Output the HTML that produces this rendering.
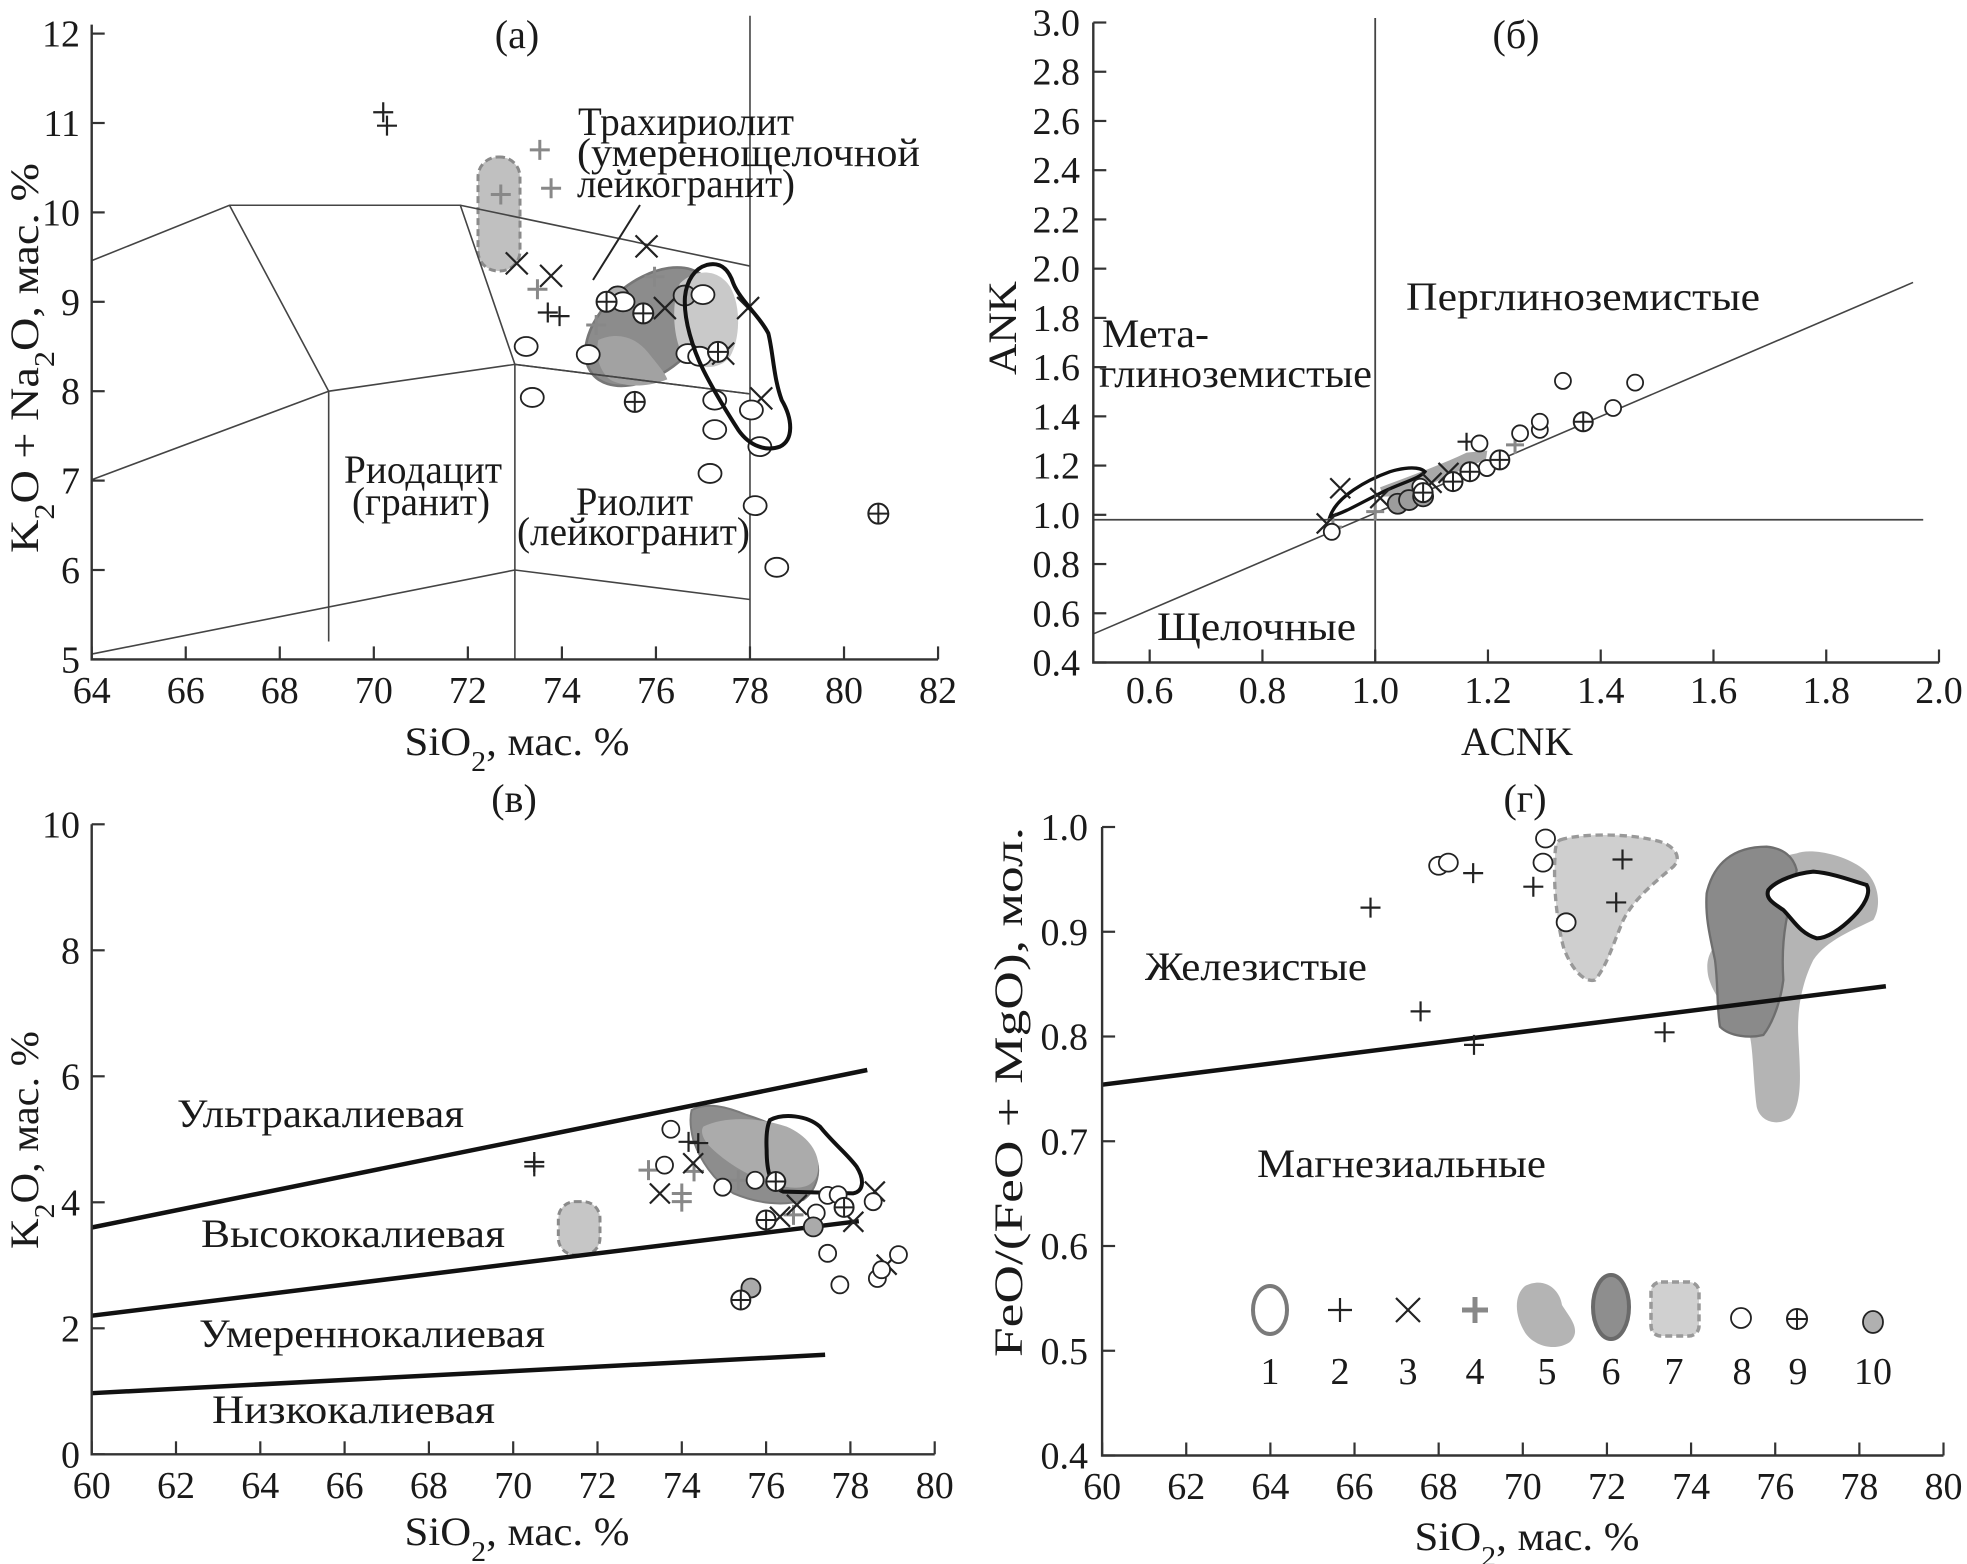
<!DOCTYPE html>
<html><head><meta charset="utf-8"><style>
html,body{margin:0;padding:0;background:#fff}
svg{display:block}
text{font-family:"Liberation Serif","DejaVu Serif",serif;fill:#1a1a1a}
</style></head><body>
<svg id="fig" width="1967" height="1564" viewBox="0 0 1967 1564" xmlns="http://www.w3.org/2000/svg">
<rect width="1967" height="1564" fill="#fff"/>

<!-- Panel a shapes (zoom-space group) -->
<g transform="translate(560,220) scale(0.3333)">
  <ellipse cx="268" cy="320" rx="222" ry="138" transform="rotate(-40 268 320)" fill="#8c8c8c" stroke="#777" stroke-width="8"/>
  <path d="M115,360 C170,335 225,350 262,395 C290,430 315,458 322,478 C270,500 200,505 152,480 C118,455 105,405 115,360Z" fill="#a2a2a2"/>
  <path d="M360,190 C400,150 470,140 510,200 C545,260 540,360 510,410 C480,450 420,450 380,420 C340,380 330,250 360,190Z" fill="#c9c9c9"/>
</g>
<rect x="478" y="157" width="42" height="114" rx="20" fill="#c0c0c0" stroke="#8a8a8a" stroke-width="3" stroke-dasharray="7,4"/>

<g id="pa"></g>

<g transform="translate(560,220) scale(0.3333)">
  <path d="M440,135 C480,125 505,145 520,190 C540,240 600,290 625,340 C640,400 640,470 665,540 C700,600 700,660 660,680 C620,695 570,680 535,630 C490,560 460,510 430,450 C400,390 370,300 375,230 C380,180 405,145 440,135Z" fill="none" stroke="#111" stroke-width="12"/>
</g>

<!-- Panel b shapes -->
<g transform="translate(1280,400) scale(0.3333)">
  <path d="M300,262 C380,232 470,200 560,158 L622,152 L618,178 C540,212 450,252 380,288 L310,290Z" fill="#a8a8a8"/>
  <path d="M150,350 C170,290 260,240 330,215 C380,200 420,200 435,215 C420,235 360,250 300,280 C240,310 190,340 150,350Z" fill="none" stroke="#111" stroke-width="10"/>
</g>
<g id="pb"></g>

<!-- Panel v shapes -->
<g transform="translate(540,1020) scale(0.3333)">
  <rect x="55" y="545" width="125" height="160" rx="50" fill="#c6c6c6" stroke="#8a8a8a" stroke-width="9" stroke-dasharray="20,12"/>
  <path d="M455,270 C500,245 560,260 620,285 C700,310 780,350 820,400 C850,450 830,510 790,540 C730,560 650,550 580,520 C520,480 480,420 460,360 C450,320 450,290 455,270Z" fill="#8d8d8d" stroke="#7a7a7a" stroke-width="6"/>
  <path d="M490,320 C550,290 650,290 740,320 C810,350 850,410 830,470 C810,510 760,510 700,490 C620,470 550,420 510,380 C490,360 480,335 490,320Z" fill="#ababab"/>
  <path d="M690,300 C730,280 800,285 840,320 C880,370 920,400 950,440 C975,480 970,515 940,520 L730,515 C690,500 680,450 680,390 C678,350 680,320 690,300Z" fill="none" stroke="#111" stroke-width="12"/>
</g>
<g id="pv"></g>

<!-- Panel g shapes -->
<g transform="translate(1420,820) scale(0.3333)">
  <path d="M420,60 C480,40 620,40 700,60 C760,70 790,110 760,140 C700,190 640,240 610,300 C580,370 560,440 525,480 C490,490 450,440 430,380 C410,300 400,200 405,110 C405,80 410,65 420,60Z" fill="#cfcfcf" stroke="#999" stroke-width="10" stroke-dasharray="22,14"/>
</g>
<g transform="translate(1700,820) scale(0.3333)">
  <path d="M290,100 C330,85 420,100 480,140 C540,180 545,260 520,300 C460,330 380,360 340,420 C310,480 290,560 295,650 C300,750 310,850 270,895 C230,920 180,905 170,860 C160,780 160,700 150,650 C100,600 40,530 25,470 C15,420 30,390 60,360 L100,200 C150,150 230,110 290,100Z" fill="#b4b4b4"/>
  <path d="M20,220 C40,130 100,80 200,80 C250,85 280,110 290,150 L270,250 C250,330 245,400 250,480 C240,560 210,620 190,645 C150,655 90,650 60,620 C50,560 55,500 45,420 C30,350 15,290 20,220Z" fill="#8a8a8a" stroke="#6e6e6e" stroke-width="7"/>
  <path d="M205,210 C230,180 290,160 340,155 C400,160 450,180 500,195 C515,220 490,260 460,290 C420,330 380,355 350,355 C300,340 280,300 250,270 C220,250 195,235 205,210Z" fill="#fff" stroke="#111" stroke-width="12"/>
</g>
<g id="pg"></g>

<!-- Legend -->
<g>
  <ellipse cx="1270" cy="1310" rx="17" ry="24" fill="none" stroke="#7a7a7a" stroke-width="4"/>
  <path d="M1525,1286 C1545,1276 1560,1290 1562,1305 C1570,1318 1582,1330 1570,1342 C1555,1352 1535,1346 1526,1334 C1515,1318 1513,1296 1525,1286Z" fill="#b4b4b4"/>
  <ellipse cx="1611" cy="1307" rx="18" ry="32" fill="#8e8e8e" stroke="#6a6a6a" stroke-width="4"/>
  <rect x="1651" y="1282" width="48" height="54" rx="10" fill="#d0d0d0" stroke="#999" stroke-width="3.5" stroke-dasharray="7,4"/>
</g>
<g id="lg"></g>
</svg>
<script>
const NS='http://www.w3.org/2000/svg';
function el(parent,tag,attrs){const e=document.createElementNS(NS,tag);for(const k in attrs)e.setAttribute(k,attrs[k]);parent.appendChild(e);return e;}
function txt(parent,x,y,s,size,anchor){const t=el(parent,'text',{x:x,y:y,'font-size':size,'text-anchor':anchor||'middle'});t.textContent=s;return t;}

// ---------- Panel A data: TAS ----------
const aXTicks=[64,66,68,70,72,74,76,78,80,82];
const aYTicks=[5,6,7,8,9,10,11,12];
const aBoundX=[[64,66.93,71.84,73,78],[71.84,78],[66.93,69.04,73],[64,69.04],[73,78],[64,73,78],[69.04,69.04],[73,73],[78,78]];
const aBoundY=[[9.46,10.08,10.08,8.3,7.97],[10.08,9.4],[10.08,8.0,8.3],[7.01,8.0],[8.3,7.97],[5.06,6.0,5.67],[8.0,5.2],[8.3,5],[12.2,5]];
const aPlusX=[70.2,70.28,73.7,73.95];
const aPlusY=[11.12,10.97,8.88,8.84];
const aGPlusX=[73.53,73.77,72.7,73.48,75.97,74.73];
const aGPlusY=[10.7,10.27,10.2,9.14,9.28,8.74];
const aCrossX=[73.04,73.77,75.8,76.19,77.96,77.43,78.24];
const aCrossY=[9.43,9.29,9.62,8.93,8.93,8.42,7.92];
const aCircX=[73.24,73.37,74.56,75.3,77.0,76.68,76.93,77.25,78.03,77.25,77.15,78.21,78.11,78.57];
const aCircY=[8.5,7.93,8.41,9.0,9.08,8.42,8.39,7.9,7.79,7.57,7.08,7.38,6.72,6.03];
const aOplusX=[74.95,75.73,77.32,75.55,80.73];
const aOplusY=[9.0,8.87,8.44,7.88,6.63];
const aGCircX=[75.19,76.61];
const aGCircY=[9.06,9.07];
const xa=v=>91.7+(v-64)*47.02, ya=v=>659.4-(v-5)*89.4;

// ---------- Panel B data: ACNK-ANK ----------
const bXTicks=[0.6,0.8,1.0,1.2,1.4,1.6,1.8,2.0];
const bYTicks=[0.4,0.6,0.8,1.0,1.2,1.4,1.6,1.8,2.0,2.2,2.4,2.6,2.8,3.0];
const bDiagX=[0.5,1.954];
const bDiagY=[0.516,1.944];
const bCrossX=[0.938,0.914,1.009,1.1,1.13];
const bCrossY=[1.108,0.965,1.068,1.13,1.17];
const bPlusX=[1.162];
const bPlusY=[1.297];
const bGPlusX=[0.925,1.0,1.248];
const bGPlusY=[0.95,1.013,1.284];
const bCircX=[0.923,1.08,1.198,1.185,1.257,1.292,1.292,1.422,1.333,1.461];
const bCircY=[0.931,1.114,1.19,1.29,1.331,1.345,1.378,1.434,1.544,1.537];
const bOplusX=[1.085,1.138,1.168,1.221,1.369];
const bOplusY=[1.09,1.135,1.175,1.223,1.378];
const bGCircX=[1.04,1.06,1.085];
const bGCircY=[1.045,1.06,1.075];
const xb=v=>1093.3+(v-0.5)*563.8, yb=v=>662.5-(v-0.4)*246.15;

// ---------- Panel V data: K2O-SiO2 ----------
const cXTicks=[60,62,64,66,68,70,72,74,76,78,80];
const cYTicks=[0,2,4,6,8,10];
const cLineX=[[60,78.4],[60,78.2],[60,77.4]];
const cLineY=[[3.6,6.1],[2.2,3.7],[0.97,1.58]];
const cPlusX=[70.5,70.5,74.16,74.39];
const cPlusY=[4.64,4.57,4.96,4.94];
const cCrossX=[74.27,73.48,76.73,76.33,78.07,78.58,78.86];
const cCrossY=[4.62,4.14,3.96,3.77,3.69,4.17,3.01];
const cGPlusX=[73.21,74.0,74.0,74.29,75.34,76.65];
const cGPlusY=[4.51,4.14,4.01,4.49,4.35,3.8];
const cCircX=[73.74,73.59,74.97,75.74,77.46,77.71,77.19,78.54,77.46,77.75,78.64,78.74,79.14];
const cCircY=[5.16,4.59,4.24,4.35,4.11,4.12,3.83,4.01,3.19,2.69,2.79,2.93,3.17];
const cOplusX=[76.23,77.85,76.0,75.4];
const cOplusY=[4.33,3.92,3.72,2.45];
const cGCircX=[77.12,75.64];
const cGCircY=[3.61,2.64];
const xc=v=>91.7+(v-60)*42.15, yc=v=>1454.3-v*63;

// ---------- Panel G data: FeO/(FeO+MgO) ----------
const dXTicks=[60,62,64,66,68,70,72,74,76,78,80];
const dYTicks=[0.4,0.5,0.6,0.7,0.8,0.9,1.0];
const dLineX=[60,78.63];
const dLineY=[0.754,0.848];
const dPlusX=[66.38,68.82,70.25,72.37,72.22,67.57,68.84,73.37];
const dPlusY=[0.923,0.956,0.943,0.969,0.928,0.824,0.792,0.804];
const dCircX=[68.0,68.23,70.54,70.48,71.03];
const dCircY=[0.963,0.966,0.989,0.966,0.909];
const xd=v=>1102.1+(v-60)*42.07, yd=v=>1455.5-(v-0.4)*1047.5;

// ---------- marker helpers ----------
function plus(g,x,y,s,col,w,name){const p=el(g,'path',{d:`M${x-s},${y}H${x+s}M${x},${y-s}V${y+s}`,stroke:col,'stroke-width':w,fill:'none'});

}
function cross(g,x,y,s,name){const p=el(g,'path',{d:`M${x-s},${y-s}L${x+s},${y+s}M${x-s},${y+s}L${x+s},${y-s}`,stroke:'#222','stroke-width':2.2,fill:'none'});

}
function circ(g,x,y,rx,ry,fill,name){const c=el(g,'ellipse',{cx:x,cy:y,rx:rx,ry:ry,fill:fill,stroke:'#222','stroke-width':1.8});

}
function oplus(g,x,y,r,name){const c=el(g,'g',{});


el(c,'circle',{cx:x,cy:y,r:r,fill:'#fff',stroke:'#222','stroke-width':2});
el(c,'path',{d:`M${x-r},${y}H${x+r}M${x},${y-r}V${y+r}`,stroke:'#222','stroke-width':2});}

function axes(g,x0,x1,y0,y1,xt,yt,fx,fy,fmtX,fmtY,xlabBase,ylabRight){
  const ax=el(g,'path',{d:`M${x0},${y1}V${y0}H${x1}`,stroke:'#333','stroke-width':2.4,fill:'none'});
  
  
  xt.forEach(v=>{const X=fx(v);el(g,'line',{x1:X,x2:X,y1:y0,y2:y0-13,stroke:'#333','stroke-width':2.2});
    const t=txt(g,X,xlabBase,fmtX(v),38);
    
    });
  yt.forEach(v=>{const Y=fy(v);el(g,'line',{x1:x0,x2:x0+13,y1:Y,y2:Y,stroke:'#333','stroke-width':2.2});
    const t=txt(g,ylabRight,Y+13,fmtY(v),38,'end');
    
    });
}
function rotLabel(g,x,y,parts,len,name){
  const t=el(g,'text',{x:x,y:y,'font-size':40,'text-anchor':'middle',transform:`rotate(-90 ${x} ${y})`,textLength:len,lengthAdjust:'spacingAndGlyphs'});
  
  
  parts.forEach(p=>{const s=el(t,'tspan',p[1]?{'baseline-shift':'sub','font-size':28}:{});s.textContent=p[0];});
}
function xLabel(g,x,y,len){
  const t=el(g,'text',{x:x,y:y,'font-size':40,'text-anchor':'middle',textLength:len,lengthAdjust:'spacingAndGlyphs'});
  
  
  [['SiO',0],['2',1],[', мас. %',0]].forEach(p=>{const s=el(t,'tspan',p[1]?{'baseline-shift':'sub','font-size':28}:{});s.textContent=p[0];});
}
function label(g,x,y,s,len,name,size){const t=el(g,'text',{x:x,y:y,'font-size':size||40,textLength:len,lengthAdjust:'spacingAndGlyphs'});t.textContent=s;

return t;}
const fInt=v=>String(v), f1=v=>v.toFixed(1);

// ---------- Panel A ----------
const pa=document.getElementById('pa');
aBoundX.forEach((xs,i)=>{const d=xs.map((v,j)=>(j?'L':'M')+xa(v)+','+ya(aBoundY[i][j])).join('');
  const p=el(pa,'path',{d:d,stroke:'#444','stroke-width':1.6,fill:'none'});
  
  });
el(pa,'line',{x1:640,y1:205,x2:593,y2:280,stroke:'#222','stroke-width':2});
axes(pa,91.7,xa(82),ya(5),ya(12.1),aXTicks,aYTicks,xa,ya,fInt,fInt,703,80);
aGPlusX.forEach((x,i)=>plus(pa,xa(x),ya(aGPlusY[i]),10,'#888',3,'gray-plus-a'));
aPlusX.forEach((x,i)=>plus(pa,xa(x),ya(aPlusY[i]),10,'#222',2.2,'plus-a'));
aCrossX.forEach((x,i)=>cross(pa,xa(x),ya(aCrossY[i]),11,'cross-a'));
aGCircX.forEach((x,i)=>circ(pa,xa(x),ya(aGCircY[i]),11,10,'#b0b0b0','gray-circle-a'));
aCircX.forEach((x,i)=>circ(pa,xa(x),ya(aCircY[i]),11.5,9.5,'#fff','circle-a'));
aOplusX.forEach((x,i)=>oplus(pa,xa(x),ya(aOplusY[i]),10,'oplus-a'));
txt(pa,517,48,'(а)',40);
rotLabel(pa,38,358,[['K',0],['2',1],['O + Na',0],['2',1],['O, мас. %',0]],390,'y-axis-title-a');
xLabel(pa,517,755,225);
label(pa,578,135,'Трахириолит',216,'label-trachyrhyolite',40);
label(pa,577,166,'(умеренощелочной',343,'label-trachyrhyolite-2',40);
label(pa,577,197,'лейкогранит)',218,'label-trachyrhyolite-3',40);
label(pa,344,483,'Риодацит',158,'label-rhyodacite',40);
label(pa,352,515,'(гранит)',138,'label-rhyodacite-2',40);
label(pa,576,515,'Риолит',117,'label-rhyolite',40);
label(pa,517,545,'(лейкогранит)',233,'label-rhyolite-2',40);

// ---------- Panel B ----------
const pb=document.getElementById('pb');
let l=el(pb,'line',{x1:xb(1.0),x2:xb(1.0),y1:18,y2:yb(0.4),stroke:'#444','stroke-width':1.8});


l=el(pb,'line',{x1:xb(0.5),x2:xb(1.972),y1:yb(0.98),y2:yb(0.98),stroke:'#444','stroke-width':1.8});


l=el(pb,'line',{x1:xb(bDiagX[0]),y1:yb(bDiagY[0]),x2:xb(bDiagX[1]),y2:yb(bDiagY[1]),stroke:'#444','stroke-width':1.6});


axes(pb,xb(0.5),xb(2.0),yb(0.4),yb(3.0),bXTicks,bYTicks,xb,yb,f1,f1,703,1080);
bGPlusX.forEach((x,i)=>plus(pb,xb(x),yb(bGPlusY[i]),9,'#888',3,'gray-plus-b'));
bPlusX.forEach((x,i)=>plus(pb,xb(x),yb(bPlusY[i]),9,'#222',2.2,'plus-b'));
bCrossX.forEach((x,i)=>cross(pb,xb(x),yb(bCrossY[i]),10,'cross-b'));
bGCircX.forEach((x,i)=>circ(pb,xb(x),yb(bGCircY[i]),10,10,'#9c9c9c','gray-circle-b'));
bCircX.forEach((x,i)=>circ(pb,xb(x),yb(bCircY[i]),8,8,'#fff','circle-b'));
bOplusX.forEach((x,i)=>oplus(pb,xb(x),yb(bOplusY[i]),9.5,'oplus-b'));
txt(pb,1516,48,'(б)',40);
rotLabel(pb,1016,328,[['ANK',0]],94,'y-axis-title-b');
label(pb,1461,755,'ACNK',112,'x-axis-title-b',40);
label(pb,1406,310,'Перглиноземистые',354,'label-peraluminous',40);
label(pb,1102,347,'Мета-',107,'label-metaluminous',40);
label(pb,1099,387,'глиноземистые',273,'label-metaluminous-2',40);
label(pb,1157,640,'Щелочные',199,'label-alkaline',40);

// ---------- Panel V ----------
const pv=document.getElementById('pv');
cLineX.forEach((xs,i)=>{const p=el(pv,'line',{x1:xc(xs[0]),y1:yc(cLineY[i][0]),x2:xc(xs[1]),y2:yc(cLineY[i][1]),stroke:'#111','stroke-width':4.5});
  
  });
axes(pv,xc(60),xc(80),yc(0),yc(10),cXTicks,cYTicks,xc,yc,fInt,fInt,1498,80);
cGPlusX.forEach((x,i)=>plus(pv,xc(x),yc(cGPlusY[i]),10,'#888',3,'gray-plus-v'));
cPlusX.forEach((x,i)=>plus(pv,xc(x),yc(cPlusY[i]),10,'#222',2.2,'plus-v'));
cCrossX.forEach((x,i)=>cross(pv,xc(x),yc(cCrossY[i]),10,'cross-v'));
cCircX.forEach((x,i)=>circ(pv,xc(x),yc(cCircY[i]),8.5,8.5,'#fff','circle-v'));
cGCircX.forEach((x,i)=>circ(pv,xc(x),yc(cGCircY[i]),9.5,9.5,'#aaa','gray-circle-v'));
cOplusX.forEach((x,i)=>oplus(pv,xc(x),yc(cOplusY[i]),9.5,'oplus-v'));
txt(pv,514,812,'(в)',40);
rotLabel(pv,38,1140,[['K',0],['2',1],['O, мас. %',0]],218,'y-axis-title-v');
xLabel(pv,517,1545,225);
label(pv,177,1127,'Ультракалиевая',287,'label-ultrapotassic',40);
label(pv,201,1247,'Высококалиевая',304,'label-high-k',40);
label(pv,199,1347,'Умереннокалиевая',346,'label-medium-k',40);
label(pv,212,1423,'Низкокалиевая',283,'label-low-k',40);

// ---------- Panel G ----------
const pg=document.getElementById('pg');
l=el(pg,'line',{x1:xd(dLineX[0]),y1:yd(dLineY[0]),x2:xd(dLineX[1]),y2:yd(dLineY[1]),stroke:'#111','stroke-width':4.5});


axes(pg,xd(60),xd(80),yd(0.4),yd(1.0),dXTicks,dYTicks,xd,yd,fInt,f1,1499,1088);
dPlusX.forEach((x,i)=>plus(pg,xd(x),yd(dPlusY[i]),10,'#222',2.2,'plus-g'));
dCircX.forEach((x,i)=>circ(pg,xd(x),yd(dCircY[i]),9.5,9,'#fff','circle-g'));
txt(pg,1525,812,'(г)',40);
rotLabel(pg,1022,1092,[['FeO/(FeO + MgO), мол.',0]],530,'y-axis-title-g');
xLabel(pg,1527,1550,225);
label(pg,1145,980,'Железистые',222,'label-ferroan',40);
label(pg,1257,1177,'Магнезиальные',289,'label-magnesian',40);

// ---------- Legend markers ----------
const lg=document.getElementById('lg');
plus(lg,1340,1310,12,'#222',2.2,'legend-symbol-2');
cross(lg,1408,1310,12,'legend-symbol-3');
plus(lg,1475,1310,13,'#888',5,'legend-symbol-4');
circ(lg,1741,1318,10,10,'#fff','legend-symbol-8');
oplus(lg,1797,1319,10,'legend-symbol-9');
circ(lg,1873,1322,10,11,'#b0b0b0','legend-symbol-10');
const legendNums=['1','2','3','4','5','6','7','8','9','10'];
const legendX=[1270,1340,1408,1475,1547,1611,1674,1742,1798,1873];
legendNums.forEach((n,i)=>{const t=txt(lg,legendX[i],1384,n,38);
  
  });
</script>
</body></html>
